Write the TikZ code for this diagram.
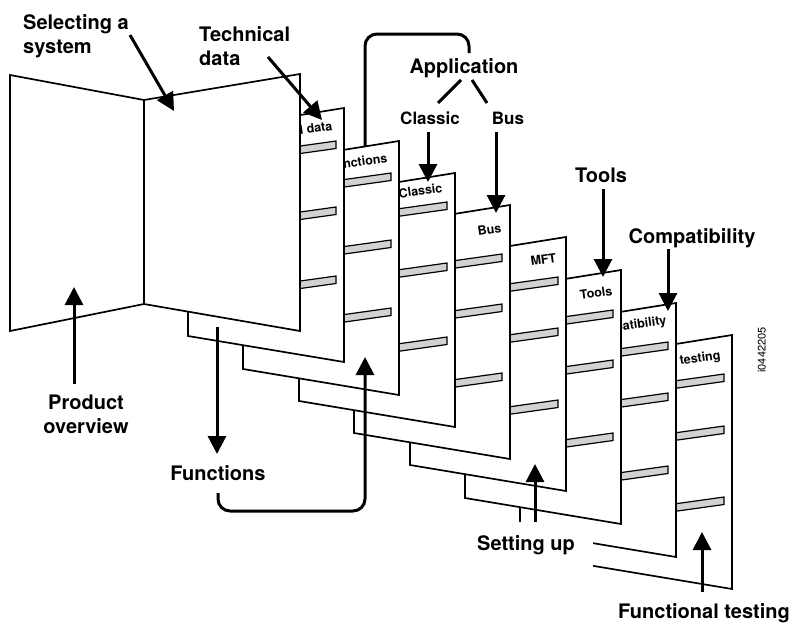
\documentclass[tikz,border=0pt]{standalone}
\usepackage{fontspec}
\setmainfont{TeX Gyre Heros}
\usetikzlibrary{arrows.meta}
\definecolor{barfill}{RGB}{210,210,210}
\newcommand{\drawpage}[9]{%
  \draw[pagebox] (#1,#2) -- (#1,#2+254) -- (#1-156,#2+228) -- (#1-156,#2+25) -- cycle;
  \foreach \b in {#6,#7,#8}{\draw[barbox] (#1-8,#2+\b) -- ++(-60,8.4) -- ++(0,7.5) -- ++(60,-8.4) -- cycle;}
  \node[ptitle] (#9) at (#1+#4,#2+#5) {#3};
}
\begin{document}
\begin{tikzpicture}[x=1pt,y=-1pt,
  pagebox/.style={draw=black, fill=white, line width=1.7pt, line join=miter},
  foldbox/.style={draw=black, fill=white, line width=1.7pt, line join=miter},
  barbox/.style={draw=black, fill=barfill, line width=1.2pt},
  ptitle/.style={font=\fontsize{12.5}{14}\selectfont\bfseries, inner sep=0pt, rotate=8, anchor=base east},
  lbl/.style={font=\fontsize{20}{23.5}\selectfont\bfseries, inner sep=0pt},
  slbl/.style={font=\fontsize{17}{20}\selectfont\bfseries, inner sep=0pt},
  conn/.style={line width=3pt},
  arr/.style={line width=3pt, -{Triangle[length=18pt,width=18pt]}},
]
\useasboundingbox (0,0) rectangle (792,622);

% Application bracket (runs behind the pages)
\coordinate (appS) at (469,53);
\coordinate (appE) at (365,165);
\draw[conn, rounded corners=12pt] (appS) -- (469,34) -- (365,34) -- (appE);

% pages, back to front
\drawpage{732}{335}{Functional testing}{-11}{24}{39}{91}{162}{p8}
\drawpage{676}{303}{Compatibility}{-9}{21}{39}{90}{163}{p7}
\drawpage{621}{270}{Tools}{-8}{25}{40}{90}{163}{p6}
\drawpage{566}{237}{MFT}{-9}{25}{40}{91}{163}{p5}
\drawpage{510}{205}{Bus}{-8}{27}{49}{99}{168}{p4}
\drawpage{455}{173}{Classic}{-12}{19}{29}{90}{164}{p3}
\drawpage{399}{141}{Functions}{-11}{21}{32}{99}{167}{p2}
\drawpage{344}{108}{Technical data}{-11}{22}{33}{99}{168}{p1}

% folder
\draw[foldbox] (10,75) -- (144,100) -- (144,304) -- (10,331) -- cycle;
\draw[foldbox] (144,100) -- (300,74) -- (300,331) -- (144,304) -- cycle;

% white patch behind "Setting up"
\fill[white] (459,522) rectangle (593,569);

% labels (multi-line nodes: base = baseline of last line)
\node[lbl, anchor=base west, align=left] (sel) at (23,53) {Selecting a\\system};
\node[lbl, anchor=base west, align=left] (tech) at (199,65) {Technical\\data};
\node[lbl, anchor=base] (app) at (464,73) {Application};
\node[slbl, anchor=base] (cls) at (430,124) {Classic};
\node[slbl, anchor=base] (bus) at (508,124) {Bus};
\node[lbl, anchor=base] (tools) at (601,182) {Tools};
\node[lbl, anchor=base] (compat) at (692,243) {Compatibility};
\node[lbl, anchor=base, align=center] (prod) at (86,433) {Product\\overview};
\node[lbl, anchor=base] (func) at (218,480) {Functions};
\node[lbl, anchor=base west] (setup) at (477,550) {Setting up};
\node[lbl, anchor=base west] (ftest) at (618,618) {Functional testing};
\node[font=\fontsize{11}{13}\selectfont, inner sep=0pt, rotate=90, anchor=base] (code) at (765.5,350) {i0442205};

% Application -> Classic / Bus
\coordinate (apL1) at (461,80); \coordinate (apL2) at (438,103);
\coordinate (apR1) at (472,80); \coordinate (apR2) at (487,103);
\draw[conn] (apL1) -- (apL2);
\draw[conn] (apR1) -- (apR2);

% arrows
\coordinate (selS) at (130,35);  \coordinate (selT) at (174,111);
\coordinate (tecS) at (268,57);  \coordinate (tecT) at (322,120);
\coordinate (clsS) at (428,132); \coordinate (clsT) at (428,182);
\coordinate (busS) at (496,132); \coordinate (busT) at (496,213);
\coordinate (tooS) at (603,189); \coordinate (tooT) at (603,277);
\coordinate (comS) at (668,249); \coordinate (comT) at (668,311);
\coordinate (proS) at (74,384);  \coordinate (proT) at (74,287);
\coordinate (fdS) at (217,327);  \coordinate (fdT) at (217,454);
\coordinate (fbS) at (218,493);  \coordinate (fbT) at (365,357);
\coordinate (setS) at (535,522); \coordinate (setT) at (535,464);
\coordinate (ftS) at (702,592);  \coordinate (ftT) at (702,532);

\draw[arr] (selS) -- (selT);
\draw[arr] (tecS) -- (tecT);
\draw[arr] (clsS) -- (clsT);
\draw[arr] (busS) -- (busT);
\draw[arr] (tooS) -- (tooT);
\draw[arr] (comS) -- (comT);
\draw[arr] (proS) -- (proT);
\draw[arr] (fdS) -- (fdT);
\draw[arr, rounded corners=12pt] (fbS) -- (218,511) -- (365,511) -- (fbT);
\draw[arr] (setS) -- (setT);
\draw[arr] (ftS) -- (ftT);
\end{tikzpicture}
\end{document}
